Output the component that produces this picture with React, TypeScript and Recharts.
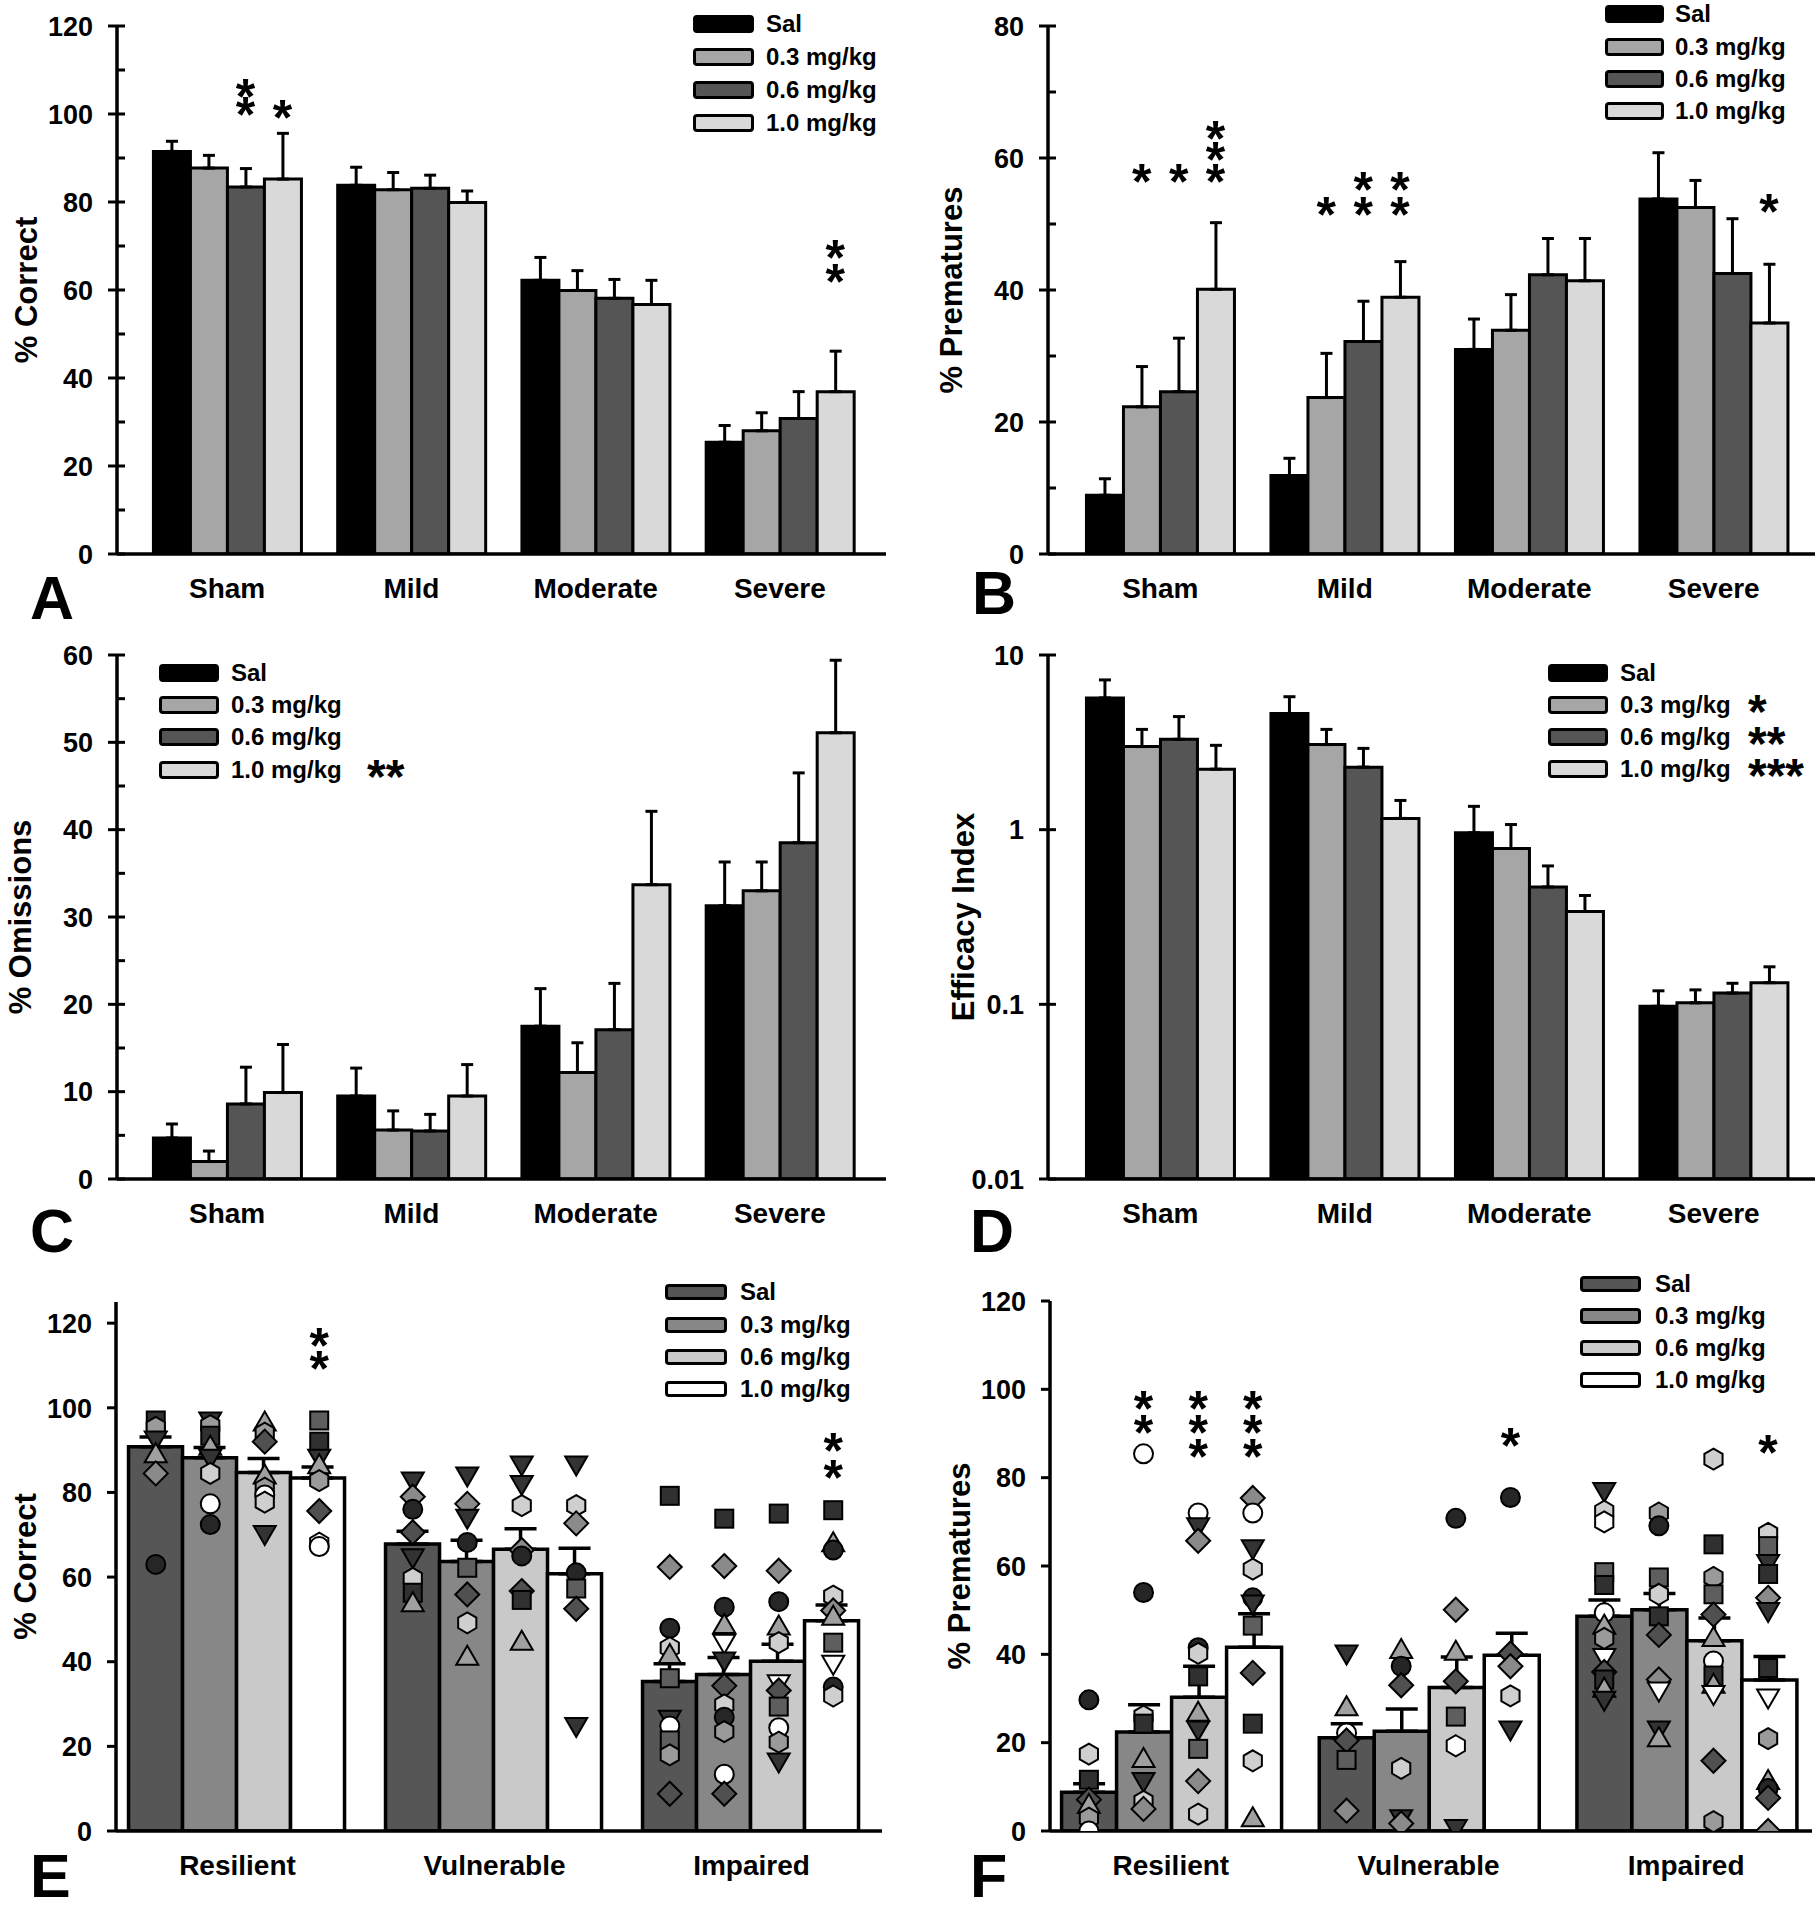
import React from "react";
import { Bar, ComposedChart, ErrorBar, Scatter, XAxis, YAxis } from "recharts";

const FONT = "'Liberation Sans', Arial, Helvetica, sans-serif";

const severity = ["Sham", "Mild", "Moderate", "Severe"];
const phenotype = ["Resilient", "Vulnerable", "Impaired"];
const doses = ["Sal", "0.3 mg/kg", "0.6 mg/kg", "1.0 mg/kg"];

const greyFills = ["#000000", "#a6a6a6", "#555555", "#d9d9d9"];
const phenoFills = ["#565656", "#878787", "#c9c9c9", "#ffffff"];

// rows = dose (Sal, 0.3, 0.6, 1.0), cols = injury group
const correctMean = [
  [91.5, 83.8, 62.2, 25.4],
  [87.7, 82.8, 59.9, 28.0],
  [83.4, 83.1, 58.1, 30.8],
  [85.2, 79.9, 56.7, 36.9],
];
const correctSem = [
  [2.3, 4.1, 5.2, 3.8],
  [2.9, 3.9, 4.5, 4.1],
  [4.2, 3.0, 4.3, 6.1],
  [10.4, 2.6, 5.5, 9.2],
];
const prematureMean = [
  [8.9, 11.9, 31.0, 53.8],
  [22.3, 23.7, 33.9, 52.5],
  [24.6, 32.2, 42.3, 42.5],
  [40.1, 38.9, 41.4, 35.0],
];
const prematureSem = [
  [2.5, 2.6, 4.6, 7.0],
  [6.1, 6.7, 5.4, 4.1],
  [8.1, 6.1, 5.5, 8.3],
  [10.1, 5.4, 6.4, 8.9],
];
const omissionMean = [
  [4.7, 9.5, 17.5, 31.3],
  [2.0, 5.6, 12.2, 33.0],
  [8.6, 5.5, 17.1, 38.5],
  [9.9, 9.5, 33.7, 51.1],
];
const omissionSem = [
  [1.6, 3.2, 4.3, 5.0],
  [1.2, 2.2, 3.4, 3.3],
  [4.2, 1.9, 5.3, 8.0],
  [5.5, 3.6, 8.4, 8.3],
];
const efficacyMean = [
  [5.68, 4.62, 0.96, 0.0975],
  [2.99, 3.07, 0.78, 0.102],
  [3.29, 2.28, 0.47, 0.116],
  [2.22, 1.16, 0.34, 0.133],
];
const efficacySem = [
  [1.52, 1.15, 0.4, 0.022],
  [0.76, 0.68, 0.29, 0.019],
  [1.15, 0.64, 0.15, 0.016],
  [0.82, 0.31, 0.08, 0.031],
];

// rows = dose, cols = phenotype
const phenoCorrectMean = [
  [90.8, 67.8, 35.3],
  [88.2, 63.7, 37.0],
  [84.7, 66.6, 40.1],
  [83.4, 60.8, 49.7],
];
const phenoCorrectSem = [
  [2.3, 3.0, 4.2],
  [2.4, 5.0, 4.0],
  [3.3, 4.8, 4.0],
  [2.6, 6.0, 3.7],
];
const phenoPrematureMean = [
  [8.8, 21.1, 48.6],
  [22.4, 22.6, 50.1],
  [30.3, 32.5, 43.1],
  [41.6, 39.8, 34.2],
];
const phenoPrematureSem = [
  [1.9, 3.2, 3.7],
  [6.2, 5.0, 3.7],
  [7.0, 6.9, 5.1],
  [7.6, 5.0, 5.3],
];

// significance stars: [group, dose, height]
const correctStars = [[0, 2, 106.4], [0, 2, 102.2], [0, 3, 101.6], [3, 3, 69.8], [3, 3, 64.4]];
const prematureStars = [
  [0, 1, 58], [0, 2, 58], [0, 3, 64.6], [0, 3, 61.3], [0, 3, 58],
  [1, 1, 53.1], [1, 2, 56.8], [1, 2, 53.1], [1, 3, 56.8], [1, 3, 53.1], [3, 3, 53.5],
];
const phenoCorrectStars = [[0, 3, 117.2], [0, 3, 111.8], [2, 3, 92.4], [2, 3, 86.1]];
const phenoPrematureStars = [
  [0, 1, 98], [0, 1, 92.5], [0, 2, 98], [0, 2, 92.5], [0, 2, 87.1],
  [0, 3, 98], [0, 3, 92.5], [0, 3, 87.1], [1, 3, 89.6], [2, 3, 88],
];

// individual animals: [group, value, symbol]
type Pt = [number, number, string];
const correctSalPts: Pt[] = [
  [0, 97, "sD"], [0, 95.4, "hG"], [0, 92.5, "vD"], [0, 89, "tL"], [0, 84.5, "dG"], [0, 63, "cD"],
  [1, 82.8, "vD"], [1, 79, "dG"], [1, 76, "cD"], [1, 70.6, "dD"], [1, 64.7, "vD"], [1, 59.7, "hL"], [1, 56.3, "sD"], [1, 53.8, "tL"],
  [2, 79.2, "sD"], [2, 62.4, "dG"], [2, 47.9, "cD"], [2, 43.3, "hL"], [2, 41.6, "tL"], [2, 36.1, "sG"], [2, 26.5, "vD"], [2, 24.8, "cW"], [2, 21.4, "sG"], [2, 18, "hG"], [2, 8.8, "dD"],
];
const correct03Pts: Pt[] = [
  [0, 97, "vD"], [0, 95.8, "hG"], [0, 93.4, "sD"], [0, 90.8, "tL"], [0, 88.2, "vD"], [0, 84.5, "hL"], [0, 77.3, "cW"], [0, 72.4, "cD"],
  [1, 84, "vD"], [1, 77.3, "dG"], [1, 74, "vD"], [1, 68.2, "cD"], [1, 62.2, "sG"], [1, 55.9, "dD"], [1, 49.2, "hL"], [1, 41.2, "tL"],
  [2, 73.8, "sD"], [2, 62.6, "dG"], [2, 52.9, "cD"], [2, 48.7, "tL"], [2, 44.5, "vW"], [2, 40.3, "vD"], [2, 34.3, "dD"], [2, 29.8, "hL"], [2, 26.9, "cD"], [2, 23.5, "hG"], [2, 13.4, "cW"], [2, 8.8, "dD"],
];
const correct06Pts: Pt[] = [
  [0, 96.5, "tL"], [0, 94, "hG"], [0, 92, "dD"], [0, 84, "tL"], [0, 81, "hG"], [0, 79.4, "cW"], [0, 77.7, "hL"], [0, 70.2, "vD"],
  [1, 86.6, "vD"], [1, 82, "vD"], [1, 76.9, "hL"], [1, 66.4, "dG"], [1, 65, "cD"], [1, 56.7, "dD"], [1, 54.6, "sD"], [1, 44.7, "tL"],
  [2, 75, "sD"], [2, 61.5, "dG"], [2, 54.2, "cD"], [2, 48.3, "tL"], [2, 44.5, "hL"], [2, 34.9, "vW"], [2, 33.2, "dD"], [2, 29.4, "sG"], [2, 24.4, "cW"], [2, 21, "hG"], [2, 16.4, "vD"],
];
const correct10Pts: Pt[] = [
  [0, 97, "sG"], [0, 92, "sD"], [0, 88.2, "vD"], [0, 86.4, "tL"], [0, 82.8, "hG"], [0, 75.6, "dD"], [0, 68, "hW"], [0, 67.2, "cW"],
  [1, 86.6, "vD"], [1, 76.9, "hL"], [1, 72.7, "dG"], [1, 61, "cD"], [1, 57.3, "sG"], [1, 52.5, "dD"], [1, 24.8, "vD"],
  [2, 75.8, "sD"], [2, 68, "tL"], [2, 66.4, "cD"], [2, 55.5, "hL"], [2, 52.1, "dG"], [2, 50.6, "tL"], [2, 44.5, "sG"], [2, 39.5, "vW"], [2, 34, "cD"], [2, 31.9, "hL"],
];
const premSalPts: Pt[] = [
  [0, 29.7, "cD"], [0, 17.4, "hL"], [0, 11.6, "sD"], [0, 7.1, "dD"], [0, 5.9, "tL"], [0, 2.9, "hG"], [0, 0, "cW"],
  [1, 40.2, "vD"], [1, 28, "tL"], [1, 22.2, "cW"], [1, 20.5, "dD"], [1, 16.1, "sG"], [1, 4.6, "dG"],
  [2, 77, "vD"], [2, 72.4, "hL"], [2, 70, "hW"], [2, 58.6, "sG"], [2, 55.7, "sD"], [2, 49.4, "cW"], [2, 46.5, "tL"], [2, 43.6, "hG"], [2, 39.4, "vW"], [2, 36, "dD"], [2, 34.3, "sD"], [2, 32.2, "tL"], [2, 29.7, "vD"],
];
const prem03Pts: Pt[] = [
  [0, 85.4, "cW"], [0, 54, "cD"], [0, 26, "hL"], [0, 24.3, "sD"], [0, 16.3, "tL"], [0, 11.3, "vD"], [0, 6.7, "hL"], [0, 5, "dG"],
  [1, 41, "tL"], [1, 37.3, "cD"], [1, 33, "dD"], [1, 14.2, "hL"], [1, 2.9, "vD"], [1, 1.7, "dG"],
  [2, 72, "hG"], [2, 69.1, "cD"], [2, 57.4, "sG"], [2, 53.6, "hL"], [2, 48.6, "sD"], [2, 44.4, "dD"], [2, 34.3, "dG"], [2, 31.8, "vW"], [2, 23, "vD"], [2, 21, "tL"],
];
const prem06Pts: Pt[] = [
  [0, 72, "cW"], [0, 69, "vD"], [0, 65.7, "dG"], [0, 41.5, "cD"], [0, 40.2, "hL"], [0, 35, "sD"], [0, 26.8, "tL"], [0, 23, "vD"], [0, 18.6, "sG"], [0, 11.3, "dG"], [0, 3.8, "hL"],
  [1, 70.8, "cD"], [1, 50.1, "dG"], [1, 40.6, "tL"], [1, 33.9, "dD"], [1, 25.9, "sG"], [1, 19.3, "hW"], [1, 0.7, "vD"],
  [2, 84.2, "hL"], [2, 64.9, "sD"], [2, 57.4, "hG"], [2, 53.6, "sG"], [2, 49, "dD"], [2, 43.7, "tL"], [2, 38.5, "cW"], [2, 35.2, "sD"], [2, 33.1, "tL"], [2, 31, "vW"], [2, 15.9, "dD"], [2, 2.1, "hG"],
];
const prem10Pts: Pt[] = [
  [0, 75.4, "dG"], [0, 72, "cW"], [0, 64, "vD"], [0, 59.3, "hL"], [0, 52.8, "cD"], [0, 51.5, "vD"], [0, 46.5, "sG"], [0, 35.8, "dD"], [0, 24.3, "sD"], [0, 15.9, "hL"], [0, 2.9, "tL"],
  [1, 75.5, "cD"], [1, 40.2, "dD"], [1, 37.3, "dG"], [1, 30.6, "hL"], [1, 23, "vD"],
  [2, 67.4, "hL"], [2, 64.5, "sG"], [2, 60.7, "vD"], [2, 58.2, "sD"], [2, 52.8, "dG"], [2, 49.8, "vD"], [2, 36.9, "sD"], [2, 30.2, "vW"], [2, 20.9, "hG"], [2, 11.3, "tL"], [2, 9.6, "cD"], [2, 7.5, "dD"], [2, 0, "dG"],
];

const markerStyle: Record<string, { shape: string; fill: string }> = {
  cD: { shape: "circle", fill: "#262626" },
  cW: { shape: "circle", fill: "#ffffff" },
  sD: { shape: "square", fill: "#303030" },
  sG: { shape: "square", fill: "#5e5e5e" },
  dG: { shape: "diamond", fill: "#8a8a8a" },
  dD: { shape: "diamond", fill: "#505050" },
  tL: { shape: "up", fill: "#a0a0a0" },
  vD: { shape: "down", fill: "#333333" },
  vW: { shape: "down", fill: "#ffffff" },
  hL: { shape: "hex", fill: "#cfcfcf" },
  hG: { shape: "hex", fill: "#9a9a9a" },
  hW: { shape: "hex", fill: "#ffffff" },
};

function Marker(props: any) {
  const { cx, cy, payload } = props;
  const st = markerStyle[payload.m];
  const common = { fill: st.fill, stroke: "#000", strokeWidth: 2 };
  const pts = (arr: number[][]) => arr.map(([dx, dy]) => `${cx + dx},${cy + dy}`).join(" ");
  switch (st.shape) {
    case "circle":
      return <circle cx={cx} cy={cy} r={9.5} {...common} />;
    case "square":
      return <rect x={cx - 9} y={cy - 9} width={18} height={18} {...common} />;
    case "diamond":
      return <polygon points={pts([[0, -12], [12, 0], [0, 12], [-12, 0]])} {...common} />;
    case "up":
      return <polygon points={pts([[0, -11], [11, 8], [-11, 8]])} {...common} />;
    case "down":
      return <polygon points={pts([[-11, -8], [11, -8], [0, 11]])} {...common} />;
    default: {
      const hex = [-90, -30, 30, 90, 150, 210].map((a) => [
        10.5 * Math.cos((a * Math.PI) / 180),
        10.5 * Math.sin((a * Math.PI) / 180),
      ]);
      return <polygon points={pts(hex)} {...common} />;
    }
  }
}

function StarMark(props: any) {
  const { cx, cy } = props;
  return (
    <text x={cx} y={cy + 28} textAnchor="middle" fontFamily={FONT} fontWeight={700} fontSize={50} fill="#000">
      *
    </text>
  );
}

type LegendCfg = {
  left: number;
  top: number;
  rowH: number;
  swW: number;
  swH: number;
  gap: number;
  stars?: string[];
  starX?: number;
};

type PanelProps = {
  left: number;
  top: number;
  width: number;
  height: number;
  axisX: number;
  plotTop: number;
  plotBottom: number;
  plotRight: number;
  padL: number;
  padR: number;
  gap: number;
  cats: string[];
  means: number[][];
  sems: number[][];
  fills: string[];
  domain: [number, number];
  ticks: number[];
  labelEvery?: number;
  log?: boolean;
  tickMode: "cross" | "out";
  title: string;
  titleX: number;
  cap: number;
  lineW: number;
  points?: Pt[][];
  stars?: number[][];
  legend: LegendCfg;
};

function Panel(p: PanelProps) {
  const rows = p.cats.map((c, i) => {
    const r: Record<string, any> = { cat: c };
    p.means.forEach((m, j) => {
      r["v" + j] = m[i];
      r["e" + j] = [0, p.sems[j][i]];
    });
    return r;
  });
  // centre of bar j inside group g, in band units
  const slot = (g: number, j: number) => g + p.gap + ((j + 0.5) * (1 - 2 * p.gap)) / 4;
  const ptData = (p.points ?? []).map((list, j) => list.map(([g, v, m]) => ({ x: slot(g, j), y: v, m })));
  const starData = (p.stars ?? []).map(([g, j, v]) => ({ x: slot(g, j), y: v }));

  const yTick = (props: any) => {
    const v = props.payload.value;
    const y = props.y;
    const ax = p.axisX;
    const major = p.log || (p.labelEvery ? Math.abs(v % p.labelEvery) < 1e-9 : true);
    let x1 = ax;
    let x2 = ax + 8;
    if (major) {
      x1 = ax - 9;
      x2 = p.tickMode === "cross" ? ax + 8 : ax;
    }
    return (
      <g>
        <line x1={x1} x2={x2} y1={y} y2={y} stroke="#000" strokeWidth={3} />
        {major && (
          <text x={ax - 24} y={y} dy="0.36em" textAnchor="end" fontFamily={FONT} fontWeight={700} fontSize={27} fill="#000">
            {String(v)}
          </text>
        )}
      </g>
    );
  };
  const xTick = (props: any) => (
    <text x={props.x} y={p.plotBottom + 24} dy="0.71em" textAnchor="middle" fontFamily={FONT} fontWeight={700} fontSize={28} fill="#000">
      {props.payload.value}
    </text>
  );

  const lg = p.legend;
  return (
    <div style={{ position: "absolute", left: p.left, top: p.top, width: p.width, height: p.height }}>
      <ComposedChart
        width={p.width}
        height={p.height}
        data={rows}
        margin={{ top: p.plotTop, right: p.width - p.plotRight, bottom: 0, left: 0 }}
        barGap={0}
        barCategoryGap={`${p.gap * 100}%`}
      >
        <XAxis
          xAxisId="cat"
          dataKey="cat"
          height={p.height - p.plotBottom}
          padding={{ left: p.padL, right: p.padR }}
          axisLine={{ stroke: "#000", strokeWidth: 3.5 }}
          tickLine={false}
          tickSize={0}
          tick={xTick}
          interval={0}
        />
        <XAxis
          xAxisId="pos"
          type="number"
          dataKey="x"
          domain={[0, p.cats.length]}
          allowDataOverflow
          padding={{ left: p.padL, right: p.padR }}
          hide
        />
        <YAxis
          width={p.axisX}
          type="number"
          scale={p.log ? "log" : "auto"}
          domain={p.domain}
          allowDataOverflow
          ticks={p.ticks}
          interval={0}
          axisLine={{ stroke: "#000", strokeWidth: 3.5 }}
          tickLine={false}
          tickSize={0}
          tickMargin={0}
          tick={yTick}
          label={{
            value: p.title,
            angle: -90,
            position: "insideLeft",
            offset: p.titleX,
            style: { textAnchor: "middle", fontFamily: FONT, fontWeight: 700, fontSize: 31, fill: "#000" },
          }}
        />
        {p.means.map((_, j) => (
          <Bar
            key={"b" + j}
            xAxisId="cat"
            dataKey={"v" + j}
            name={doses[j]}
            fill={p.fills[j]}
            stroke="#000"
            strokeWidth={p.lineW}
            isAnimationActive={false}
          >
            <ErrorBar dataKey={"e" + j} direction="y" width={p.cap} stroke="#000" strokeWidth={p.lineW} />
          </Bar>
        ))}
        {ptData.map((d, j) => (
          <Scatter key={"s" + j} xAxisId="pos" dataKey="y" data={d} shape={Marker} isAnimationActive={false} />
        ))}
        {starData.length > 0 && (
          <Scatter xAxisId="pos" dataKey="y" data={starData} shape={StarMark} isAnimationActive={false} />
        )}
      </ComposedChart>
      <div style={{ position: "absolute", left: lg.left, top: lg.top, fontFamily: FONT, fontWeight: 700, fontSize: 24 }}>
        {doses.map((d, j) => (
          <div key={d} style={{ position: "relative", display: "flex", alignItems: "center", height: lg.rowH, whiteSpace: "nowrap" }}>
            <span
              style={{
                display: "inline-block",
                width: lg.swW,
                height: lg.swH,
                boxSizing: "border-box",
                border: "3.5px solid #000",
                borderRadius: 4,
                background: p.fills[j],
                marginRight: lg.gap,
              }}
            />
            <span style={{ lineHeight: 1 }}>{d}</span>
            {lg.stars && lg.stars[j] ? (
              <span style={{ position: "absolute", left: lg.starX, top: -1, fontSize: 48, lineHeight: 1 }}>{lg.stars[j]}</span>
            ) : null}
          </div>
        ))}
      </div>
    </div>
  );
}

const letters = [
  { t: "A", x: 30, y: 619 },
  { t: "B", x: 972, y: 614 },
  { t: "C", x: 30, y: 1252 },
  { t: "D", x: 970, y: 1252 },
  { t: "E", x: 30, y: 1897 },
  { t: "F", x: 970, y: 1897 },
];

export default function App() {
  const tenTicks = (max: number, step: number) => Array.from({ length: max / step + 1 }, (_, i) => i * step);
  return (
    <div style={{ position: "absolute", left: 0, top: 0, width: 1817, height: 1920, background: "#fff", overflow: "hidden" }}>
      <Panel
        left={0} top={0} width={906} height={625}
        axisX={117} plotTop={26} plotBottom={554} plotRight={886} padL={18} padR={14} gap={0.1}
        cats={severity} means={correctMean} sems={correctSem} fills={greyFills}
        domain={[0, 120]} ticks={tenTicks(120, 10)} labelEvery={20} tickMode="cross"
        title="% Correct" titleX={26} cap={6} lineW={3}
        stars={correctStars}
        legend={{ left: 693, top: 8, rowH: 32.9, swW: 61, swH: 18, gap: 12 }}
      />
      <Panel
        left={906} top={0} width={911} height={625}
        axisX={142} plotTop={26} plotBottom={554} plotRight={909} padL={20} padR={9} gap={0.1}
        cats={severity} means={prematureMean} sems={prematureSem} fills={greyFills}
        domain={[0, 80]} ticks={tenTicks(80, 10)} labelEvery={20} tickMode="cross"
        title="% Prematures" titleX={45} cap={6} lineW={3}
        stars={prematureStars}
        legend={{ left: 699, top: -2, rowH: 32.4, swW: 59, swH: 18, gap: 11 }}
      />
      <Panel
        left={0} top={625} width={906} height={645}
        axisX={117} plotTop={30} plotBottom={554} plotRight={886} padL={18} padR={14} gap={0.1}
        cats={severity} means={omissionMean} sems={omissionSem} fills={greyFills}
        domain={[0, 60]} ticks={tenTicks(60, 5)} labelEvery={10} tickMode="cross"
        title="% Omissions" titleX={20} cap={6} lineW={3}
        legend={{ left: 159, top: 32, rowH: 32.2, swW: 60, swH: 18, gap: 12, stars: ["", "", "", "**"], starX: 208 }}
      />
      <Panel
        left={906} top={625} width={911} height={645}
        axisX={142} plotTop={30} plotBottom={554} plotRight={909} padL={20} padR={9} gap={0.1}
        cats={severity} means={efficacyMean} sems={efficacySem} fills={greyFills}
        domain={[0.01, 10]} ticks={[0.01, 0.1, 1, 10]} log tickMode="cross"
        title="Efficacy Index" titleX={57} cap={6} lineW={3}
        legend={{ left: 642, top: 32, rowH: 32, swW: 60, swH: 18, gap: 12, stars: ["", "*", "**", "***"], starX: 200 }}
      />
      <Panel
        left={0} top={1270} width={906} height={650}
        axisX={116} plotTop={32} plotBottom={561} plotRight={882} padL={-7} padR={2} gap={0.076}
        cats={phenotype} means={phenoCorrectMean} sems={phenoCorrectSem} fills={phenoFills}
        domain={[0, 125]} ticks={tenTicks(120, 20)} labelEvery={20} tickMode="out"
        title="% Correct" titleX={25} cap={16} lineW={3.5}
        points={[correctSalPts, correct03Pts, correct06Pts, correct10Pts]}
        stars={phenoCorrectStars}
        legend={{ left: 665, top: 6, rowH: 32.4, swW: 62, swH: 16, gap: 13 }}
      />
      <Panel
        left={906} top={1270} width={911} height={650}
        axisX={144} plotTop={31} plotBottom={561} plotRight={906} padL={-8} padR={-3} gap={0.076}
        cats={phenotype} means={phenoPrematureMean} sems={phenoPrematureSem} fills={phenoFills}
        domain={[0, 120]} ticks={tenTicks(120, 20)} labelEvery={20} tickMode="out"
        title="% Prematures" titleX={53} cap={16} lineW={3.5}
        points={[premSalPts, prem03Pts, prem06Pts, prem10Pts]}
        stars={phenoPrematureStars}
        legend={{ left: 674, top: -2, rowH: 32, swW: 61, swH: 16, gap: 14 }}
      />
      <svg width={1817} height={1920} style={{ position: "absolute", left: 0, top: 0, pointerEvents: "none" }}>
        {letters.map((l) => (
          <text key={l.t} x={l.x} y={l.y} fontFamily={FONT} fontWeight={700} fontSize={61} fill="#000">
            {l.t}
          </text>
        ))}
      </svg>
    </div>
  );
}
